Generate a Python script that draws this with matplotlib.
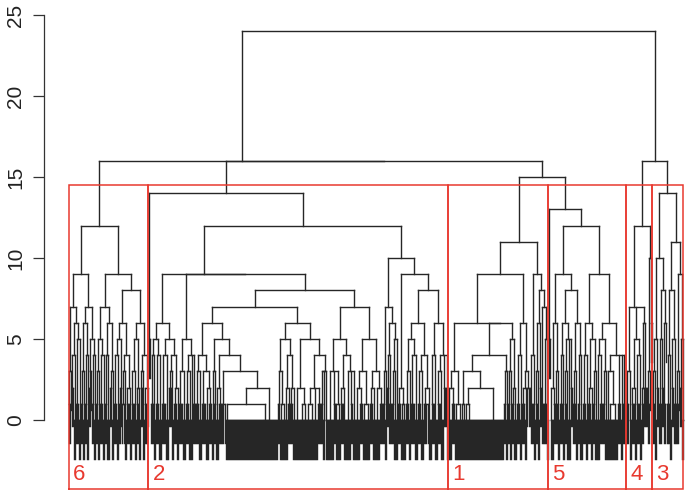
import re
import matplotlib
matplotlib.use("Agg")
import matplotlib.pyplot as plt
from matplotlib.collections import LineCollection

# Tree notation: "h(a b ...)" = children joined at height h (chained, right fold),
# "n" = n leaves joined at height 0, "n:h" = n leaves joined at height h, "1" = one leaf.
root_height = 24
top_tree = "24(16({c6} 16({c2} 15({c1} {c5}))) 16({c4} {c3}))"

tree_6 = """12(
 9(7(3(2:1 1) 6(4(2:2 2) 5(3:1 2)))
   7(6(3(2:1 2) 4(2:1 2)) 5(3(2:2 1) 4(2:1 2))))
 9(7(5(3(2:1 2) 4(3:1 2)) 6(4(2:1 3) 3(2:2 2)))
   8(6(5(4(3:1 2) 2(2:1 1)) 4(3(2:1 2) 2(3:1 2)))
     6(5(3(3:1 2) 2(2:1 2)) 4(3(2:2 2) 2(3:1 1))))))"""

tree_2 = """14(5(1 1)
 12(
  9(6(5(4(3:1 2) 4(3:1 3)) 5(4(4:1 3) 4(3(3:2 2) 2(3:1 2))))
    9(5(3(4:1 3) 4(3(3:1 2) 2 3:1))
      8(7(6(4(3(3:1 3) 3(4:1 2(3 3:1)))
            5(3(2 2:1) 4(2(3 3:1) 3(3:1 2(1(38 4) 10)))))
          6(5(3(2:1 1(3 2)) 4(2(3 2:1) 2(3:1 3)))
            5(2(5 1(3 3)) 4(2(1(4 3) 4 3:1) 3(3(2:1 2) 4)))))
        7(5(3(4 2:1 1(3 2)) 4(2(3:1 3) 3(4 2:1 3)))
          5(3(2(4 3:1) 1(4 3)) 3(2(3:1 3) 2(4 3:1)))))))
  10(7(3(2:1 2) 6(4(2:2 3:1) 5(3(2:1 2) 2)))
     9(2(3:1 1(2 3))
       8(6(5(3(3:1 2) 4(4:1 3)) 4(3(3:1 3) 2(4:1 3)))
         6(4(3:1 3) 4(3(3:1 3) 3:2 2)))))))"""

tree_1 = """11(
 9(6(3(2(3 3:1) 1(4 3))
     6(4(3(1(2 2) 2(1(2 24) 12)) 3(2:1 2))
       5(3(2:1 2) 2(2:1 3))))
   6(4(3:1 2) 3(2(3:1 2) 3:2)))
 9(4(3:1 2) 8(6(3(2:1 2) 2:2) 7(3:1 5(2:1 2)))))"""

tree_5 = """13(5(1 1)
 12(9(6(2(3 2:1) 3(2:1 2))
      8(6(4(3:1 2) 5(3(2:1 2) 2 2:2))
        6(3(3:1 2) 4(2:1 3))))
    9(6(4(3:1 2) 5(2(3:1 2) 3(2:1 2)))
      6(5(4(3 3:1) 3(2:1 2)) 4(3(2 1(5 4)) 3:1 2 3:1)))))"""

tree_4 = """12(7(3(3:1 2) 5(2(3:1 2) 4(3:1 2)) 6(2(2:1 1) 3:2))
 10(3(2:1 1) 6(1 1)))"""

tree_3 = """14(10(5(3(2:1 2) 2:2) 8(5(3:1 2:2) 6(2:1 1)))
 11(8(4(3:1 2) 5(2:2 3:1)) 9(3(2:1 1) 5(2:2 2))))"""

cluster_labels = ["6", "2", "1", "5", "4", "3"]
cluster_trees = [tree_6, tree_2, tree_1, tree_5, tree_4, tree_3]
n_clusters = 6
rect_bottom = -4.26


def parse(s):
    tokens = re.findall(r"[\d.:]+\(|\)|[\d.:]+", s)
    pos = 0

    def node():
        nonlocal pos
        t = tokens[pos]
        pos += 1
        if t.endswith("("):
            kids = []
            while tokens[pos] != ")":
                kids.append(node())
            pos += 1
            return ("node", float(t[:-1]), kids)
        n, _, h = t.partition(":")
        return ("bundle", int(n), float(h or 0))

    return node()


def count_leaves(nd):
    if nd[0] == "bundle":
        return nd[1]
    return sum(count_leaves(k) for k in nd[2])


def merge_heights(nd, out):
    if nd[0] == "bundle":
        out += [nd[2]] * (nd[1] - 1)
    else:
        out += [nd[1]] * (len(nd[2]) - 1)
        for k in nd[2]:
            merge_heights(k, out)
    return out


def fold(xs):
    x = xs[-1]
    for v in reversed(xs[:-1]):
        x = (v + x) / 2
    return x


hang = 0.1 * root_height
segs = []
next_leaf = [1]


def place(nd):
    if nd[0] == "bundle":
        n, h = nd[1], nd[2]
        xs = list(range(next_leaf[0], next_leaf[0] + n))
        next_leaf[0] += n
        if n == 1:
            return xs[0], None
        for x in xs:
            segs.append([(x, h), (x, h - hang)])
        segs.append([(xs[0], h), (xs[-1], h)])
        return fold(xs), h
    h, kids = nd[1], nd[2]
    placed = [place(k) for k in kids]
    for x, top in placed:
        low = h - hang if top is None else top
        segs.append([(x, low), (x, h)])
    segs.append([(placed[0][0], h), (placed[-1][0], h)])
    return fold([p[0] for p in placed]), h


subs = dict(zip(["c6", "c2", "c1", "c5", "c4", "c3"], cluster_trees))
tree = parse(top_tree.format(**subs))
place(tree)
N = next_leaf[0] - 1

heights = sorted(merge_heights(tree, []), reverse=True)
cut = (heights[n_clusters - 2] + heights[n_clusters - 1]) / 2

sizes = [count_leaves(parse(t)) for t in cluster_trees]

fig = plt.figure(figsize=(6.85, 4.93), dpi=100)
W, H = 685, 493
ax = fig.add_axes([44.4 / W, 4 / H, (707.6 - 44.4) / W, (489 - 10) / H])

ax.add_collection(LineCollection(segs, colors="#262626", linewidths=1.0,
                                 capstyle="projecting"))

red = "#E8392F"
start = 0
for lab, sz in zip(cluster_labels, sizes):
    left, right = start + 0.66, start + sz + 0.33
    ax.plot([left, left, right, right, left],
            [rect_bottom, cut, cut, rect_bottom, rect_bottom],
            color=red, lw=1.1, clip_on=False, solid_joinstyle="miter")
    ax.annotate(lab, (left, rect_bottom), xytext=(3, 3), textcoords="offset points",
                color=red, fontsize=16, family="Liberation Sans",
                ha="left", va="bottom")
    start += sz

ax.set_xlim(1 - 0.04 * (N - 1), N + 0.04 * (N - 1))
ax.set_ylim(rect_bottom, 25.31)

for s in ["top", "right", "bottom"]:
    ax.spines[s].set_visible(False)
ax.spines["left"].set_bounds(0, 25)
ax.spines["left"].set_linewidth(0.9)
ax.spines["left"].set_color("#333333")
ax.set_xticks([])
ax.set_yticks(range(0, 26, 5))
ax.tick_params(axis="y", direction="out", length=8, width=0.9, color="#333333", pad=6)
for t in ax.get_yticklabels():
    t.set_rotation(90)
    t.set_va("center")
    t.set_fontsize(15)
    t.set_family("Liberation Sans")
    t.set_color("#222222")

fig.savefig("out.png", dpi=100)
